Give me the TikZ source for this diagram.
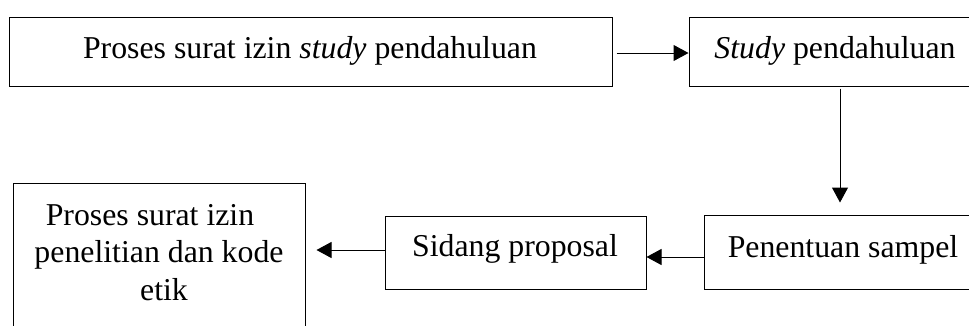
\documentclass[tikz,border=0pt]{standalone}
\usepackage{fontspec}
\setmainfont{Liberation Serif}
\usetikzlibrary{arrows.meta,calc}
\begin{document}
\begin{tikzpicture}[x=0.75pt,y=-0.75pt,
  box/.style={draw,line width=0.75pt,inner sep=0pt,rectangle},
  txt/.style={inner sep=0pt,anchor=base,font=\fontsize{23.85pt}{28pt}\selectfont},
  arr/.style={line width=0.75pt,-{Triangle[length=11.25pt,width=12pt]}}]
\useasboundingbox (0,0) rectangle (969,325);
\clip (0,0) rectangle (969,325);
\fill[white] (0,0) rectangle (969,325);
% boxes
\node[box,minimum width=452.25pt,minimum height=51.75pt] (b1) at (310.5,51.5) {};
\node[box,minimum width=226.5pt,minimum height=51.75pt] (b2) at (840,51.5) {};
\node[box,minimum width=204pt,minimum height=55.5pt] (b3) at (840,252) {};
\node[box,minimum width=195.75pt,minimum height=54.75pt] (b4) at (515.5,252.5) {};
\node[box,minimum width=219pt,minimum height=117.75pt] (b5) at (159,261.5) {};
% texts
\node[txt] (t1) at (310,58) {Proses surat izin \textit{study} pendahuluan};
\node[txt] (t2) at (835,58) {\textit{Study} pendahuluan};
\node[txt] (t3) at (843,257) {Penentuan sampel};
\node[txt] (t4) at (515,256) {Sidang proposal};
\node[txt] (t5a) at (150,225) {Proses surat izin};
\node[txt] (t5b) at (159,262) {penelitian dan kode};
\node[txt] (t5c) at (164,300) {etik};
% connectors
\coordinate (s1) at ($(b1.east)+(4,1.5)$);
\coordinate (e1) at ($(b2.west)+(0,1.5)$);
\draw[arr] (s1) -- (e1);
\coordinate (s2) at ($(b2.south)+(0,2)$);
\coordinate (e2) at ($(b3.north)+(0,-12)$);
\draw[arr] (s2) -- (e2);
\coordinate (s3) at ($(b3.west)+(0,5)$);
\coordinate (e3) at ($(b4.east)+(0,4.5)$);
\draw[arr] (s3) -- (e3);
\coordinate (s4) at ($(b4.west)+(0,-2.5)$);
\coordinate (e4) at ($(b5.east |- b4.west)+(11,-2.5)$);
\draw[arr] (s4) -- (e4);
\end{tikzpicture}
\end{document}
